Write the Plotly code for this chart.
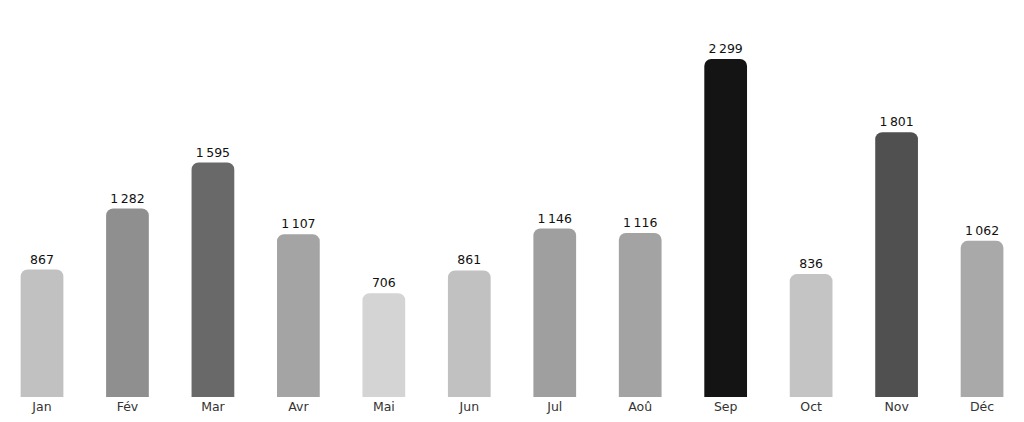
import plotly.graph_objects as go

# monthly values
mois = ['Jan', 'Fév', 'Mar', 'Avr', 'Mai', 'Jun', 'Jul', 'Aoû', 'Sep', 'Oct', 'Nov', 'Déc']
valeurs = [867, 1282, 1595, 1107, 706, 861, 1146, 1116, 2299, 836, 1801, 1062]

fig = go.Figure()
fig.add_trace(go.Bar(
    x=mois, y=valeurs,
    marker=dict(color=valeurs, colorscale=[[0, 'rgb(212,212,212)'], [1, 'rgb(20,20,20)']],
                cmin=min(valeurs), cmax=max(valeurs), line=dict(width=0), cornerradius=7),
    texttemplate='%{y:,}', textposition='outside', cliponaxis=False,
    textfont=dict(family='DejaVu Sans', size=12.5, color='#111111'),
    hoverinfo='x+y',
))

# page body adds 8px, so figure is sized to the remaining viewport
fig.update_layout(
    width=1016, height=414,
    margin=dict(l=0, r=0, t=10, b=25),
    paper_bgcolor='white', plot_bgcolor='white',
    bargap=0.5, showlegend=False,
    separators=',\u202f',
    font=dict(family='DejaVu Sans', size=12.5, color='#333333'),
)
fig.update_xaxes(range=[-0.398, 11.491], showline=False, showgrid=False, ticks='',
                 tickfont=dict(size=12.5, color='#333333'))
fig.update_yaxes(range=[0, 2578], visible=False, showgrid=False, zeroline=False)

fig.write_html("out.html")
